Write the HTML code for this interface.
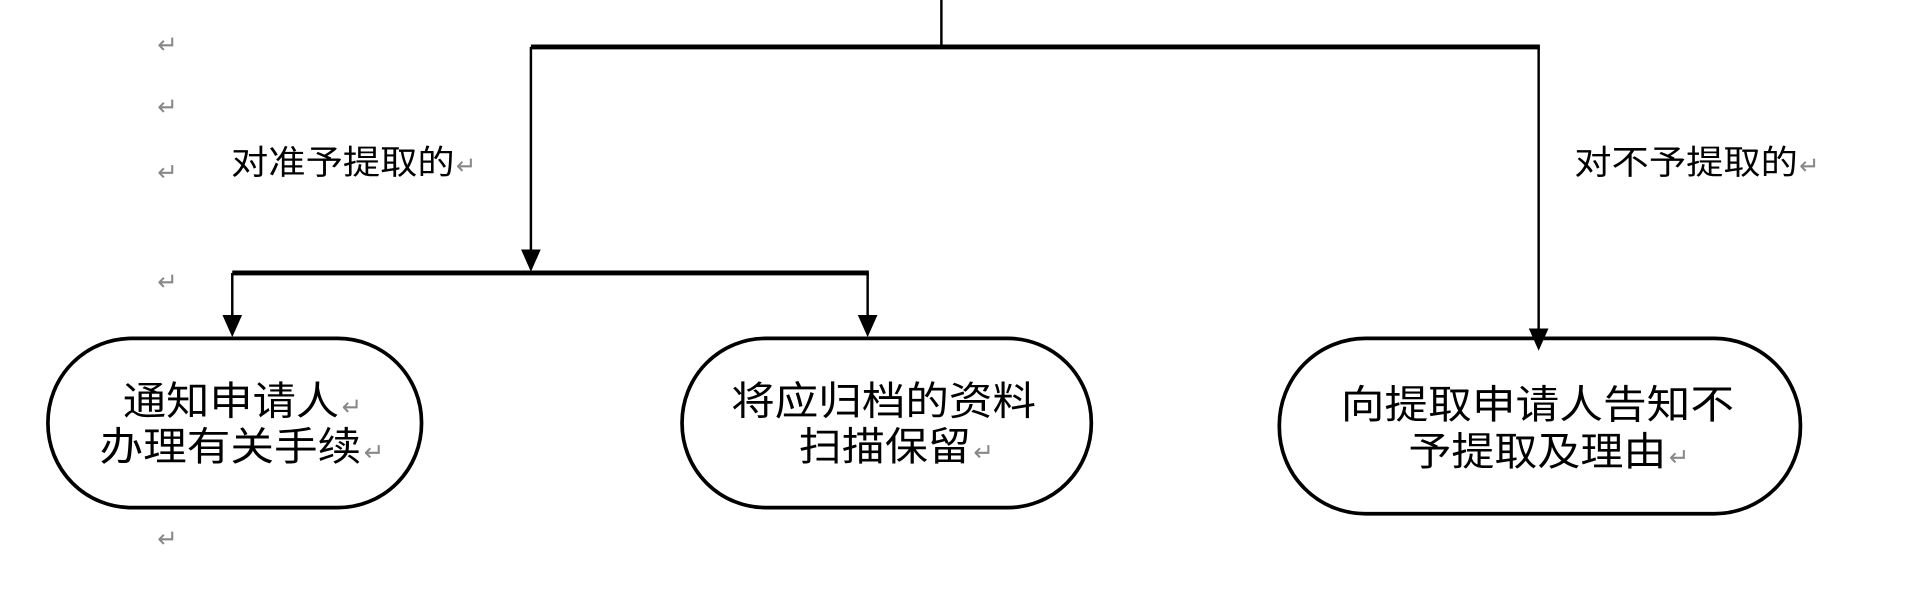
<!DOCTYPE html>
<html><head><meta charset="utf-8"><style>
html,body{margin:0;padding:0;background:#fff;}
svg{display:block;}
text{font-family:"Liberation Sans","Noto Sans CJK SC","WenQuanYi Zen Hei",sans-serif;fill:#000;}
.r{fill:#888;font-size:20px;}
</style></head><body>
<svg width="1927" height="599" viewBox="0 0 1568 485" preserveAspectRatio="none" xmlns="http://www.w3.org/2000/svg">
<g stroke="#000" fill="none">
<line x1="766" y1="0" x2="766" y2="38" stroke-width="2"/>
<line x1="432" y1="38" x2="1253" y2="38" stroke-width="4"/>
<line x1="432" y1="38" x2="432" y2="205" stroke-width="2"/>
<line x1="189" y1="221" x2="707" y2="221" stroke-width="4"/>
<line x1="189" y1="221" x2="189" y2="258" stroke-width="2"/>
<line x1="706" y1="221" x2="706" y2="258" stroke-width="2"/>
<line x1="1252" y1="38" x2="1252" y2="268" stroke-width="2"/>
<rect x="39" y="274" width="304" height="137" rx="68" stroke-width="3"/>
<rect x="555" y="274" width="333" height="137" rx="68" stroke-width="3"/>
<rect x="1041" y="274" width="424" height="142" rx="70" stroke-width="3"/>
</g>
<g fill="#000">
<path d="M424,202 L440,202 L432,220 Z"/>
<path d="M181,255 L197,255 L189,273 Z"/>
<path d="M698,255 L714,255 L706,273 Z"/>
<path d="M1244,266 L1260,266 L1252,284 Z"/>
</g>
<text class="r" x="128" y="43">↵</text>
<text class="r" x="128" y="93">↵</text>
<text class="r" x="128" y="146">↵</text>
<text class="r" x="128" y="235">↵</text>
<text class="r" x="128" y="443">↵</text>
<text x="188" y="141" font-size="27" textLength="182" lengthAdjust="spacingAndGlyphs">对准予提取的</text><text class="r" x="371" y="141">↵</text>
<text x="1281" y="141" font-size="27" textLength="182" lengthAdjust="spacingAndGlyphs">对不予提取的</text><text class="r" x="1464" y="141">↵</text>
<text x="100" y="336" font-size="32" textLength="176" lengthAdjust="spacingAndGlyphs">通知申请人</text><text class="r" x="278" y="336">↵</text>
<text x="81" y="373" font-size="32" textLength="213" lengthAdjust="spacingAndGlyphs">办理有关手续</text><text class="r" x="296" y="373">↵</text>
<text x="595" y="336" font-size="32" textLength="248" lengthAdjust="spacingAndGlyphs">将应归档的资料</text>
<text x="650" y="373" font-size="32" textLength="140" lengthAdjust="spacingAndGlyphs">扫描保留</text><text class="r" x="792" y="373">↵</text>
<text x="1091" y="339" font-size="32" textLength="320" lengthAdjust="spacingAndGlyphs">向提取申请人告知不</text>
<text x="1146" y="377" font-size="32" textLength="210" lengthAdjust="spacingAndGlyphs">予提取及理由</text><text class="r" x="1358" y="377">↵</text>
</svg>
</body></html>
